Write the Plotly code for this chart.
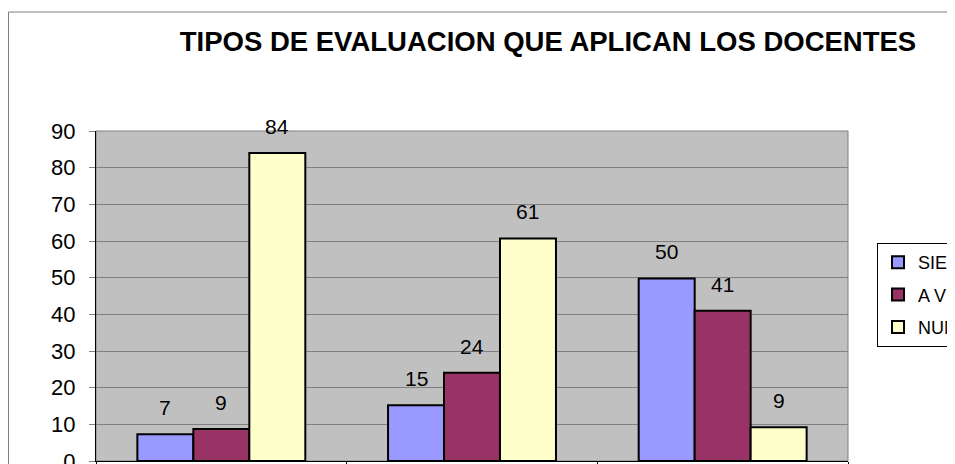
import plotly.graph_objects as go

# datos (porcentaje de docentes)
categorias = ["Tipo 1", "Tipo 2", "Tipo 3"]
series = ["SIEMPRE", "A VECES", "NUNCA"]
siempre = [7.3, 15.2, 49.8]
a_veces = [8.7, 24.1, 41.0]
nunca = [84.0, 60.7, 9.2]
colores = ["#9999FF", "#993366", "#FFFFCC"]

# la pagina tiene 8px de margen en el body
W, H = 947, 456
L, R, T, B = 88, 107, 123, 3   # area de trazado 88..840 x 123..453
pw, ph = W - L - R, H - T - B
bargap = 0.33

fig = go.Figure()
for nombre, vals, col in zip(series, [siempre, a_veces, nunca], colores):
    fig.add_trace(go.Bar(
        x=categorias, y=vals, name=nombre, legendgroup=nombre,
        marker=dict(color=col, line=dict(color="black", width=2)),
    ))

# etiquetas de datos sobre cada barra
ancho = (1 - bargap) / len(series)
for j, vals in enumerate([siempre, a_veces, nunca]):
    for i, v in enumerate(vals):
        fig.add_annotation(
            x=i + (j - 1) * ancho, y=v, xref="x", yref="y",
            text=str(round(v)), showarrow=False, yanchor="bottom", yshift=13,
            font=dict(size=21, color="black", family="Liberation Sans, Arial"),
        )

# marco exterior del grafico
fig.add_shape(type="rect", xref="paper", yref="paper",
              x0=(0.5 - L) / pw, x1=(W + 20 - L) / pw,
              y0=-0.2, y1=(T + ph - 4) / ph,
              line=dict(color="#808080", width=1), layer="below")
# borde del area de trazado
fig.add_shape(type="rect", xref="paper", yref="paper", x0=0, x1=1, y0=0, y1=1,
              line=dict(color="#808080", width=1), layer="below")

fig.update_layout(
    width=W, height=H,
    margin=dict(l=L, r=R, t=T, b=B, autoexpand=False),
    paper_bgcolor="white", plot_bgcolor="#C0C0C0",
    barmode="group", bargap=bargap, bargroupgap=0,
    font=dict(family="Liberation Sans, Arial", color="black"),
    title=dict(text="<b>TIPOS DE EVALUACION QUE APLICAN LOS DOCENTES</b>",
               x=540 / W, xanchor="center", y=1 - 33 / H, yanchor="middle",
               font=dict(size=27.5, color="black")),
    legend=dict(x=(869 - L) / pw, xanchor="left", y=(T + ph - 235) / ph, yanchor="top",
                bgcolor="white", bordercolor="black", borderwidth=1,
                font=dict(size=18), traceorder="grouped", tracegroupgap=6),
    showlegend=True,
)
fig.update_yaxes(range=[0, 90], dtick=10, showgrid=True, gridcolor="#808080", gridwidth=1,
                 showline=True, linecolor="black", linewidth=1,
                 ticks="outside", ticklen=6, tickcolor="#808080",
                 ticklabelstandoff=9, tickfont=dict(size=22), zeroline=False,
                 ticklabeloverflow="allow")
fig.update_xaxes(showline=True, linecolor="black", linewidth=1,
                 ticks="outside", tickson="boundaries", ticklen=6, tickcolor="black",
                 showticklabels=False, showgrid=False)

fig.write_html("out.html")
